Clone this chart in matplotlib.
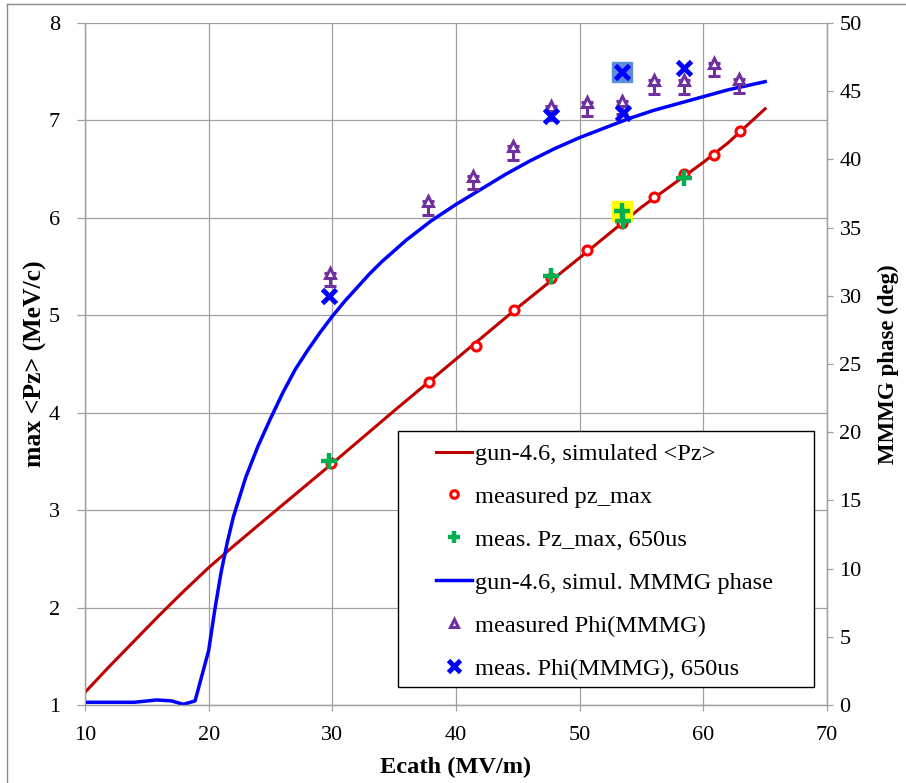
import matplotlib
matplotlib.use('Agg')
import matplotlib.pyplot as plt
from matplotlib.lines import Line2D
from matplotlib.patches import Rectangle

# ---------------- data ----------------
ecath_sim = [10, 12, 14, 16, 18, 20, 22, 25, 30, 35, 40, 45, 50, 55, 60, 62, 65]
pz_sim = [1.13, 1.40, 1.66, 1.92, 2.17, 2.41, 2.63, 2.95, 3.48, 4.02, 4.55, 5.08, 5.59, 6.11, 6.57, 6.77, 7.12]

ecath_meas = [29.9, 37.8, 41.6, 44.7, 47.7, 50.6, 53.4, 56.0, 58.45, 60.9, 62.95]
pz_meas = [3.48, 4.32, 4.68, 5.05, 5.38, 5.67, 5.95, 6.21, 6.45, 6.65, 6.89]

ecath_650 = [29.75, 47.7, 53.4, 53.5, 58.45]
pz_650 = [3.50, 5.40, 6.07, 5.97, 6.41]

ecath_phi_sim = [10, 12, 14, 15.8, 17, 17.95, 18.9, 20.0, 20.5, 21.0, 21.5, 22, 23, 24, 25, 26,
                 27, 28, 29, 30, 31, 32, 33, 34, 35, 36, 38, 40, 42, 44, 46, 48, 50, 52, 54,
                 56, 58, 60, 62, 65]
phi_sim = [0.2, 0.2, 0.2, 0.37, 0.3, 0.05, 0.3, 4.0, 7.0, 9.7, 11.9, 13.8, 16.7, 19.0, 21.0, 22.9,
           24.6, 26.0, 27.3, 28.5, 29.6, 30.6, 31.6, 32.5, 33.3, 34.1, 35.5, 36.7, 37.8, 38.9,
           39.9, 40.8, 41.6, 42.3, 43.0, 43.6, 44.1, 44.6, 45.1, 45.7]

ecath_phi = [29.8, 37.7, 41.4, 44.6, 47.7, 50.6, 53.4, 56.0, 58.45, 60.9, 62.9]
phi_meas = [31.7, 36.95, 38.8, 40.95, 43.9, 44.2, 44.3, 45.8, 45.8, 47.1, 45.9]
phi_err_low = [1.0] * len(phi_meas)

ecath_phi_650 = [29.75, 47.7, 53.4, 53.5, 58.4]
phi_650 = [30.0, 43.2, 46.4, 43.4, 46.7]

highlight_pz = ([53.4], [6.07])
highlight_phi = ([53.4], [46.4])

# ---------------- figure ----------------
plt.rcParams['font.family'] = ['Liberation Serif', 'DejaVu Serif']
W, H = 906, 783
fig = plt.figure(figsize=(W / 100, H / 100), dpi=100)
L, R, T, B = 85, 827, 23, 705
ax1 = fig.add_axes([L / W, 1 - B / H, (R - L) / W, (B - T) / H])
ax2 = ax1.twinx()

# figure frame (partially cropped)
fig.add_artist(Line2D([7 / W, 7 / W], [0, 1 - 4 / H], transform=fig.transFigure, color='#8c8c8c', lw=1))
fig.add_artist(Line2D([7 / W, 1], [1 - 4 / H, 1 - 4 / H], transform=fig.transFigure, color='#8c8c8c', lw=1))

gray = '#a0a0a0'

# left axis series
l1, = ax1.plot(ecath_sim, pz_sim, color='#c00000', lw=2.2, zorder=2, label='gun-4.6, simulated <Pz>')
l2, = ax1.plot(ecath_meas, pz_meas, ls='none', marker='o', ms=6.5, mfc='white', mec='#ff0000', mew=2.2,
               zorder=3, label='measured pz_max')
ax1.plot(*highlight_pz, ls='none', marker='s', ms=14, mfc='#ffff00', mec='#ffff00', zorder=3.5)
l3, = ax1.plot(ecath_650, pz_650, ls='none', marker='+', ms=11, mec='#00b050', mew=3.2,
               zorder=4, label='meas. Pz_max, 650us')

# right axis series
l4, = ax2.plot(ecath_phi_sim, phi_sim, color='#0000ff', lw=2.5, zorder=2, label='gun-4.6, simul. MMMG phase')
ax2.errorbar(ecath_phi, phi_meas, yerr=[phi_err_low, [0] * len(phi_meas)], fmt='none',
             ecolor='#7030a0', elinewidth=2.2, capsize=4, capthick=2.2, zorder=3)
l5, = ax2.plot(ecath_phi, phi_meas, ls='none', marker='^', ms=7, mfc='white', mec='#7030a0', mew=2.2,
               zorder=3.2, label='measured Phi(MMMG)')
ax2.plot(*highlight_phi, ls='none', marker='s', ms=14, mfc='#5b8fd8', mec='#5b8fd8', zorder=3.5)
l6, = ax2.plot(ecath_phi_650, phi_650, ls='none', marker='x', ms=10, mec='#0000ff', mew=3.5,
               zorder=4, label='meas. Phi(MMMG), 650us')

# axes limits / ticks
ax1.set_xlim(10, 70)
ax1.set_ylim(1, 8)
ax2.set_ylim(0, 50)
ax1.set_xticks(range(10, 71, 10))
ax1.set_yticks(range(1, 9))
ax2.set_yticks(range(0, 51, 5))

ax1.set_axisbelow(True)
ax1.grid(True, color=gray, lw=0.9)
for ax in (ax1, ax2):
    for s in ax.spines.values():
        s.set_color(gray)
        s.set_linewidth(0.9)
    ax.spines['top'].set_visible(False)

ax1.tick_params(axis='y', direction='out', length=6, width=0.9, color=gray, pad=12, labelsize=16)
ax1.tick_params(axis='x', direction='out', length=4, width=0.9, color=gray, pad=11, labelsize=16)
ax2.tick_params(axis='y', direction='out', length=4, width=0.9, color=gray, pad=5, labelsize=16)

ax1.set_xlabel('Ecath (MV/m)', fontsize=17.6, fontweight='bold')
ax1.set_ylabel('max <Pz> (MeV/c)', fontsize=18.5, fontweight='bold')
ax2.set_ylabel('MMMG phase (deg)', fontsize=16.5, fontweight='bold')
ax1.xaxis.set_label_coords(0.5, (B - 757) / (B - T))
ax1.yaxis.set_label_coords((47 - L) / (R - L), 0.5)
ax2.yaxis.set_label_coords((878 - L) / (R - L), 0.5)

# legend box (manual frame)
bx0, by0, bx1, by1 = 398, 431, 814, 687
rect = Rectangle(((bx0 - L) / (R - L), (B - by1) / (B - T)), (bx1 - bx0) / (R - L), (by1 - by0) / (B - T),
                 transform=ax2.transAxes, facecolor='white', edgecolor='black', lw=1.0, zorder=4.8,
                 clip_on=False)
ax2.add_patch(rect)

handles = [l1, l2, l3, l4, l5, l6]
leg = ax2.legend(handles, [h.get_label() for h in handles], loc='upper left',
                 bbox_to_anchor=((436 - L) / (R - L), (B - 443) / (B - T)),
                 frameon=False, fontsize=17.6, borderpad=0, borderaxespad=0,
                 handlelength=1.48, handletextpad=0.12, labelspacing=0.85, markerscale=0.85)
leg.set_zorder(5)

fig.savefig('out.png', dpi=100)
